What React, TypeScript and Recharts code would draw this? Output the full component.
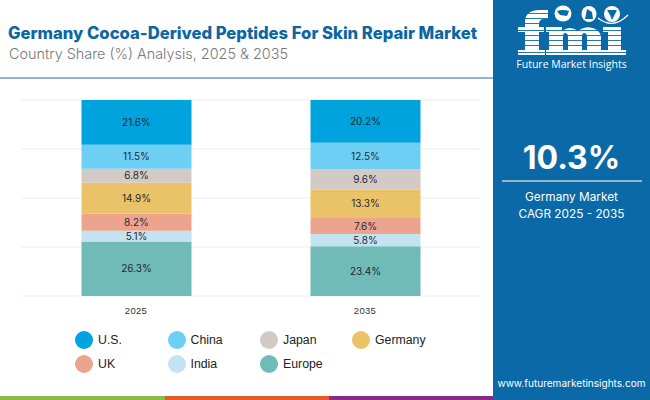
import React from "react";
import { BarChart, Bar, XAxis, YAxis, CartesianGrid, LabelList } from "recharts";

const years = ["2025", "2035"];
const us = [21.6, 20.2];
const china = [11.5, 12.5];
const japan = [6.8, 9.6];
const germany = [14.9, 13.3];
const uk = [8.2, 7.6];
const india = [5.1, 5.8];
const europe = [26.3, 23.4];

const rows = years.map((year, i) => ({
  year,
  "U.S.": us[i],
  China: china[i],
  Japan: japan[i],
  Germany: germany[i],
  UK: uk[i],
  India: india[i],
  Europe: europe[i],
}));

const stackOrder = ["Europe", "India", "UK", "Germany", "Japan", "China", "U.S."];
const colors: Record<string, string> = {
  "U.S.": "#00a3dd",
  China: "#6dcff3",
  Japan: "#d3c9c5",
  Germany: "#eac369",
  UK: "#eca48f",
  India: "#c3e2f2",
  Europe: "#70bbb8",
};
const legendRows = [
  [["U.S.", 84], ["China", 176.5], ["Japan", 269], ["Germany", 361]],
  [["UK", 84], ["India", 176.5], ["Europe", 269]],
] as [string, number][][];
const legendY = [340, 364];

const titleText = "Germany Cocoa-Derived Peptides For Skin Repair Market";
const subtitleText = "Country Share (%) Analysis, 2025 & 2035";
const stripes = [13, 18, 23, 30, 35, 40, 45, 52];
const PANEL = "#0a69a6";
const UI = "Inter, 'Open Sans', sans-serif";

function Logo() {
  // coordinates in page pixels, the svg covers the top of the side panel
  return (
    <svg width={157} height={60} viewBox="493 0 157 60" style={{ position: "absolute", left: 493, top: 0 }}>
      <g fill="#fff">
        {/* f */}
        <path d="M525 55 V22 Q525 10 540 10 H548 V19 H544 Q539 19 539 24 V55 Z" />
        <rect x={518} y={27} width={26} height={5} />
        <rect x={518} y={50} width={27} height={5} />
        {/* m */}
        <path d="M546 27 H562 V31 Q570 25 578 31 Q588 24 597 30 Q601 33 601 38 V55 H587 V37 Q587 33 584 33 Q582 33 582 37 V55 H568 V37 Q568 33 565 33 Q563 33 563 37 V55 H549 V32 H546 Z" />
        <rect x={546} y={50} width={20} height={5} />
        <rect x={565} y={50} width={20} height={5} />
        <rect x={584} y={50} width={20} height={5} />
        {/* i */}
        <rect x={608} y={27} width={13} height={28} />
        <rect x={603} y={27} width={18} height={5} />
        <rect x={603} y={50} width={23} height={5} />
      </g>
      {stripes.map((y) => (
        <rect key={y} x={515} y={y} width={115} height={0.9} fill={PANEL} />
      ))}
      <ellipse cx={563} cy={13.5} rx={8.5} ry={8} fill="#fff" />
      <ellipse cx={589} cy={14} rx={7.5} ry={8} fill="#fff" />
      <ellipse cx={612} cy={14} rx={8} ry={8} fill="#fff" />
      <path d="M557 11 Q563 9 569 11 L567 16 L560 15 Z" fill={PANEL} />
      <path d="M587 9 L592 12 L593 19 L585 19 L586 14 Z" fill={PANEL} />
      <path d="M607 10 L617 10 L614 16 L612 20 L610 15 Z" fill={PANEL} />
      <path d="M598 18 Q613 30 628 15" stroke="#fff" strokeWidth={1.2} fill="none" />
    </svg>
  );
}

export default function App() {
  return (
    <div style={{ position: "fixed", left: 0, top: 0, width: 650, height: 400, background: "#fff", overflow: "hidden" }}>
      <div style={{ position: "absolute", left: 0, top: 0 }}>
        <BarChart
          width={650}
          height={400}
          data={rows}
          stackOffset="expand"
          margin={{ left: 21.5, right: 170.5, top: 100, bottom: 74 }}
          barCategoryGap={0}
        >
          <CartesianGrid vertical={false} stroke="#ececec" strokeWidth={1} />
          <XAxis
            dataKey="year"
            height={30}
            axisLine={false}
            tickLine={false}
            tickMargin={5}
            tick={{ fontSize: 9.5, fill: "#333", fontFamily: "'Liberation Sans', sans-serif", letterSpacing: 0.3 }}
          />
          <YAxis hide domain={[0, 1]} ticks={[0, 0.25, 0.5, 0.75, 1]} />
          {stackOrder.map((key) => (
            <Bar key={key} dataKey={key} stackId="share" fill={colors[key]} barSize={110} isAnimationActive={false}>
              <LabelList
                dataKey={key}
                position="center"
                formatter={(v: number) => `${v.toFixed(1)}%`}
                style={{ fontSize: 10, fill: "#1f2a33", fontFamily: UI }}
              />
            </Bar>
          ))}
        </BarChart>
      </div>

      {/* header */}
      <div style={{ position: "absolute", left: 8, top: 23, fontFamily: UI, fontWeight: 800, fontSize: 16.65, lineHeight: "20px", color: "#0b66a4", whiteSpace: "nowrap" }}>
        {titleText}
      </div>
      <div style={{ position: "absolute", left: 9, top: 44, fontFamily: UI, fontWeight: 300, fontSize: 14.4, lineHeight: "20px", color: "#777", whiteSpace: "nowrap" }}>
        {subtitleText}
      </div>
      <div style={{ position: "absolute", left: 0, top: 77, width: 493, height: 2, background: "#8fb6cd" }} />

      {/* legend */}
      {legendRows.map((row, r) =>
        row.map(([name, x]) => (
          <div key={name} style={{ position: "absolute", left: x - 9, top: legendY[r] - 9, height: 18, display: "flex", alignItems: "center", whiteSpace: "nowrap" }}>
            <span style={{ width: 18, height: 18, borderRadius: "50%", background: colors[name], display: "inline-block", marginRight: 5 }} />
            <span style={{ fontFamily: "'Liberation Sans', sans-serif", fontSize: 12.3, color: "#222" }}>{name}</span>
          </div>
        ))
      )}

      {/* bottom strip */}
      <div style={{ position: "absolute", left: 0, top: 396, width: 165, height: 4, background: "#8cbd3f" }} />
      <div style={{ position: "absolute", left: 165, top: 396, width: 164, height: 4, background: "#e85a2a" }} />
      <div style={{ position: "absolute", left: 329, top: 396, width: 164, height: 4, background: "#8b2a86" }} />

      {/* side panel */}
      <div style={{ position: "absolute", left: 493, top: 0, width: 157, height: 400, background: PANEL }} />
      <Logo />
      <div style={{ position: "absolute", left: 493, top: 57, width: 157, textAlign: "center", fontFamily: "'Open Sans', sans-serif", fontSize: 10.5, lineHeight: "14px", color: "#fff" }}>
        Future Market Insights
      </div>
      <div style={{ position: "absolute", left: 493, top: 136, width: 157, textAlign: "center", fontFamily: UI, fontWeight: 700, fontSize: 32, lineHeight: "44px", color: "#fff" }}>
        10.3%
      </div>
      <div style={{ position: "absolute", left: 502, top: 180, width: 140, height: 2, background: "#8fb6cd" }} />
      <div style={{ position: "absolute", left: 493, top: 189, width: 157, textAlign: "center", fontFamily: UI, fontSize: 11.8, lineHeight: "17px", color: "#fff" }}>
        Germany Market
        <br />
        CAGR 2025 - 2035
      </div>
      <div style={{ position: "absolute", left: 493, top: 376, width: 157, textAlign: "center", fontFamily: UI, fontSize: 10.05, lineHeight: "14px", color: "#fff", whiteSpace: "nowrap" }}>
        www.futuremarketinsights.com
      </div>
    </div>
  );
}
